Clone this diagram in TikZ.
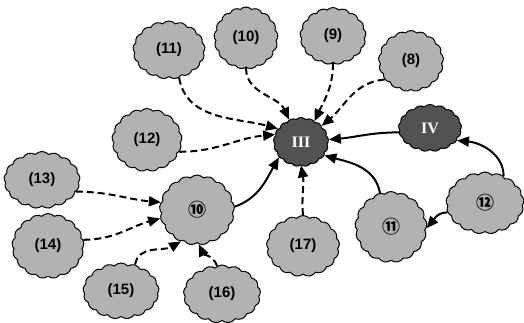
\documentclass[tikz,border=0pt]{standalone}
\usepackage{fontspec}
\setmainfont{Liberation Sans}
\newfontfamily\circfont{Noto Sans CJK JP}
\newfontfamily\romfont{Liberation Serif}
\usetikzlibrary{shapes.symbols,arrows.meta}
\tikzset{
  puff/.style={cloud, cloud puffs=17, cloud puff arc=95, draw=black, line width=1pt, inner sep=0pt},
  litepuff/.style={puff, fill=black!30, font=\bfseries\fontsize{15}{15}\selectfont},
  circpuff/.style={puff, fill=black!30, font=\circfont\bfseries\fontsize{18}{18}\selectfont},
  darkpuff/.style={puff, fill=black!68, text=white, font=\romfont\bfseries\fontsize{16}{16}\selectfont},
  dashlink/.style={line width=2pt, dash pattern=on 7pt off 4pt, -{Triangle[length=12pt,width=10pt]}},
  fulllink/.style={line width=2pt, -{Triangle[length=12pt,width=10pt]}},
}
\begin{document}
\begin{tikzpicture}[x=1pt,y=1pt]
	\useasboundingbox (0,0) rectangle (524,322);
	% centre and the two outer groups
	\node[darkpuff, minimum width=55pt, minimum height=49pt] (III) at (301,180) {III};
	\node[darkpuff, minimum width=63pt, minimum height=47pt] (IV) at (430,194) {IV};
	\node[circpuff, minimum width=75pt, minimum height=70pt] (n10) at (197,112) {⑩};
	\node[circpuff, minimum width=72pt, minimum height=71pt] (n11) at (391,95) {⑪};
	\node[circpuff, minimum width=78pt, minimum height=62pt] (n12) at (485,119) {⑫};
	% sources round the centre
	\node[litepuff, minimum width=72pt, minimum height=58pt] (c11) at (169,272) {(11)};
	\node[litepuff, minimum width=64pt, minimum height=62pt] (c10) at (246,284) {(10)};
	\node[litepuff, minimum width=66pt, minimum height=57pt] (c9) at (333,286) {(9)};
	\node[litepuff, minimum width=65pt, minimum height=61pt] (c8) at (411,261) {(8)};
	\node[litepuff, minimum width=70pt, minimum height=63pt] (c12) at (147,182) {(12)};
	\node[litepuff, minimum width=73pt, minimum height=61pt] (c17) at (303,76) {(17)};
	% sources round node 10
	\node[litepuff, minimum width=76pt, minimum height=57pt] (c13) at (42,142) {(13)};
	\node[litepuff, minimum width=72pt, minimum height=65pt] (c14) at (48,76) {(14)};
	\node[litepuff, minimum width=76pt, minimum height=56pt] (c15) at (121,31) {(15)};
	\node[litepuff, minimum width=77pt, minimum height=58pt] (c16) at (222,28) {(16)};
	% dashed links
	\draw[dashlink] (c11.-70) to[out=-80,in=165] (III.150);
	\draw[dashlink] (c10.-90) to[out=-90,in=115] (III.118);
	\draw[dashlink] (c9.-90) to[out=-90,in=65] (III.57);
	\draw[dashlink] (c8.-145) to[out=185,in=40] (III.38);
	\draw[dashlink] (c12.-20) to[out=0,in=185] (III.164);
	\draw[dashlink] (c17.90) to[out=95,in=-80] (III.-90);
	\draw[dashlink] (c13.-19) to[out=0,in=175] (n10.168);
	\draw[dashlink] (c14.10) to[out=0,in=195] (n10.193);
	\draw[dashlink] (c15.62) to[out=80,in=210] (n10.243);
	\draw[dashlink] (c16.100) to[out=110,in=-65] (n10.273);
	% solid links
	\draw[fulllink] (n10.5) to[out=20,in=-120] (III.215);
	\draw[fulllink] (IV.188) to[out=180,in=5] (III.5);
	\draw[fulllink] (n11.108) to[out=100,in=-15] (III.-30);
	\draw[fulllink] (n12.55) to[out=90,in=-5] (IV.-25);
	\draw[fulllink] (n12.194) to[out=180,in=50] (n11.-2);
\end{tikzpicture}
\end{document}
